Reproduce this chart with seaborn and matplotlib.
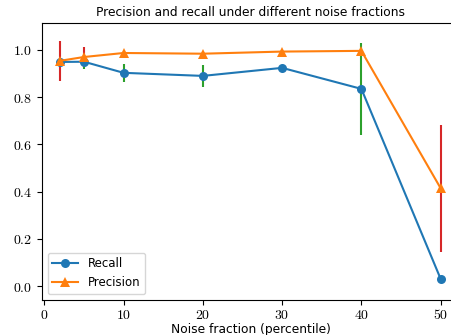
import numpy as np
import pandas as pd
import matplotlib
matplotlib.use("Agg")
import matplotlib.pyplot as plt
import seaborn as sns
from matplotlib.ticker import FuncFormatter

plt.rcParams["mathtext.fontset"] = "cm"
plt.rcParams["font.family"] = ["DejaVu Sans"]

# dados
fracoes = [2, 5, 10, 20, 30, 40, 50]
recall = [0.949, 0.950, 0.903, 0.890, 0.924, 0.835, 0.030]
recall_err = [0.0, 0.030, 0.037, 0.048, 0.0, 0.196, 0.0]
precision = [0.954, 0.970, 0.987, 0.984, 0.993, 0.996, 0.414]
precision_err = [0.085, 0.042, 0.0, 0.0, 0.0, 0.0, 0.268]

df = pd.DataFrame({
    "fracao": fracoes * 2,
    "valor": recall + precision,
    "metrica": ["Recall"] * len(fracoes) + ["Precision"] * len(fracoes),
})

fig = plt.figure(figsize=(4.51, 3.35), dpi=100)
ax = fig.add_axes([41.7 / 451, 35 / 335, 418 / 451, 277 / 335])

ax.errorbar(fracoes, recall, yerr=recall_err, fmt="none", ecolor="#2ca02c", elinewidth=1.5, zorder=1.9)
ax.errorbar(fracoes, precision, yerr=precision_err, fmt="none", ecolor="#d62728", elinewidth=1.5, zorder=1.9)

sns.lineplot(data=df, x="fracao", y="valor", hue="metrica", style="metrica",
             markers={"Recall": "o", "Precision": "^"}, dashes=False,
             palette={"Recall": "#1f77b4", "Precision": "#ff7f0e"},
             markersize=6.5, markeredgewidth=0, linewidth=1.5, ax=ax)

ax.set_xlim(-0.33, 52.4)
ax.set_ylim(-0.059, 1.114)
ax.set_xticks([0, 10, 20, 30, 40, 50])
ax.set_yticks([0.0, 0.2, 0.4, 0.6, 0.8, 1.0])
ax.xaxis.set_major_formatter(FuncFormatter(lambda v, p: f"${v:g}$"))
ax.yaxis.set_major_formatter(FuncFormatter(lambda v, p: f"${v:.1f}$"))
ax.tick_params(labelsize=10)
ax.tick_params(axis="x", pad=2)

ax.set_title("Precision and recall under different noise fractions", fontsize=8.8, pad=5)
ax.set_xlabel("Noise fraction (percentile)", fontsize=8.8, labelpad=1)
ax.set_ylabel("")
ax.legend(loc="lower left", fontsize=8.5, title=None, handlelength=2.2)

fig.savefig("out.png", dpi=100)
